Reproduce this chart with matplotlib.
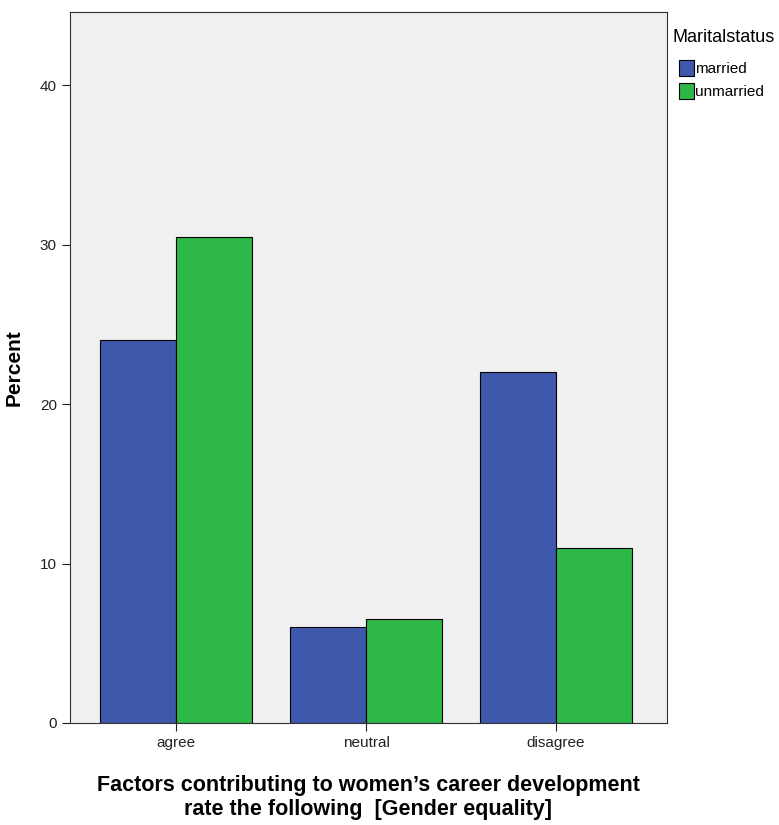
import matplotlib.pyplot as plt
import numpy as np

plt.rcParams['font.family'] = ['Liberation Sans', 'DejaVu Sans']

categories = ['agree', 'neutral', 'disagree']
married = [24.0, 6.0, 22.0]
unmarried = [30.5, 6.5, 11.0]

fig = plt.figure(figsize=(7.79, 8.25), dpi=100)
ax = fig.add_axes([70 / 779, 1 - 723 / 825, 597 / 779, 711 / 825])
ax.set_facecolor('#f0f0f0')

x = np.arange(len(categories))
w = 0.4
ax.bar(x - w / 2, married, w, color='#3e58ac', edgecolor='black', linewidth=0.8, label='married')
ax.bar(x + w / 2, unmarried, w, color='#2eb848', edgecolor='black', linewidth=0.8, label='unmarried')

ax.set_xlim(-0.558, 2.584)
ax.set_ylim(0, 44.6)
ax.set_yticks([0, 10, 20, 30, 40])
ax.set_xticks(x)
ax.set_xticklabels(categories)
ax.tick_params(labelsize=11, colors='#222222', length=6)
for s in ax.spines.values():
    s.set_color('#333333')

ax.set_ylabel('Percent', fontsize=15, fontweight='bold', labelpad=12)
ax.set_xlabel('Factors contributing to women\u2019s career development\nrate the following  [Gender equality]',
              fontsize=15.5, fontweight='bold', labelpad=18, linespacing=1.15)

fig.text(672 / 779, 1 - 37 / 825, 'Maritalstatus', fontsize=13, va='center', ha='left')
fig.legend(loc='upper left', bbox_to_anchor=(679 / 779, 1 - 60 / 825), frameon=False,
           fontsize=11, handlelength=0.95, handleheight=1.2, handletextpad=0.1,
           labelspacing=0.45, borderpad=0, borderaxespad=0)

fig.savefig('out.png', dpi=100)
